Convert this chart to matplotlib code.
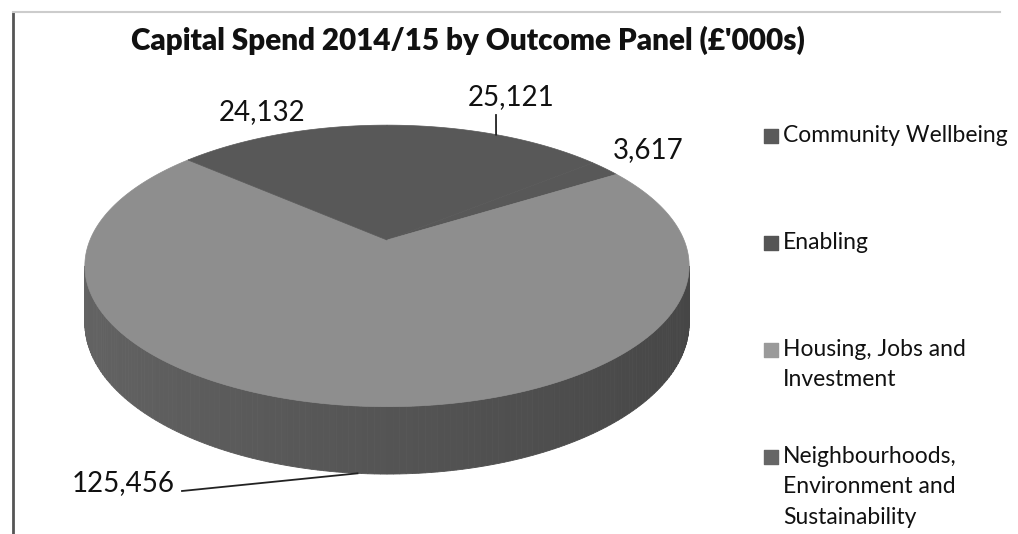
import numpy as np
import matplotlib
matplotlib.use('Agg')
import matplotlib.pyplot as plt

# data, in the order Excel draws the slices
categories = ['Community Wellbeing', 'Enabling', 'Housing, Jobs and\nInvestment',
              'Neighbourhoods,\nEnvironment and\nSustainability']
values = [25121, 3617, 125456, 24132]
value_labels = ['25,121', '3,617', '125,456', '24,132']
top_colors = ['#585858', '#585858', '#8e8e8e', '#585858']
legend_colors = ['#5a5a5a', '#555555', '#9a9a9a', '#666666']

W, H = 1018, 534
plt.rcParams['font.family'] = ['Lato', 'DejaVu Sans']

# 3d pie geometry in pixels
CX, CY = 387, 240
A, B = 297, 136
P = 0.184
DEPTH = 55


def project(t, r=1.0, drop=0.0):
    x = r * np.cos(t)
    z = r * np.sin(t)
    f = 1.0 / (1.0 + P * z)
    return CX + A * x * f, CY - B * z * f + drop * f


fig = plt.figure(figsize=(W / 100, H / 100), dpi=100)
ax = fig.add_axes([0, 0, 1, 1])
ax.set_xlim(0, W)
ax.set_ylim(H, 0)
ax.axis('off')

total = float(sum(values))
start = np.deg2rad(90)
edges = start - np.concatenate([[0], np.cumsum(values)]) / total * 2 * np.pi

# side wall, visible part only
vis_lo = np.pi + np.arcsin(P)
vis_hi = 2 * np.pi - np.arcsin(P)
for i in range(len(values)):
    a0, a1 = edges[i + 1], edges[i]  # a0 < a1
    base = int(top_colors[i][1:3], 16) / 255.0
    for k in range(-1, 2):
        lo = max(a0 + k * 2 * np.pi, vis_lo)
        hi = min(a1 + k * 2 * np.pi, vis_hi)
        if hi <= lo:
            continue
        n = max(2, int(np.degrees(hi - lo)))
        ts = np.linspace(lo, hi, n + 1)
        for j in range(n):
            t = np.linspace(ts[j], ts[j + 1], 4)
            xt, yt = project(t)
            xb, yb = project(t[::-1], drop=DEPTH)
            shade = base * (0.70 - 0.21 * (np.cos(t.mean()) + 1) / 2)
            c = (shade, shade, shade)
            ax.fill(np.concatenate([xt, xb]), np.concatenate([yt, yb]),
                    facecolor=c, edgecolor=c, linewidth=0.6)

# top face
for i in range(len(values)):
    t = np.linspace(edges[i], edges[i + 1], 200)
    xs, ys = project(t)
    cx0, cy0 = project(0.0, r=0.0)
    ax.fill(np.concatenate([[cx0], xs]), np.concatenate([[cy0], ys]),
            facecolor=top_colors[i], edgecolor=top_colors[i], linewidth=0.5)

# data labels
mids = (edges[:-1] + edges[1:]) / 2
label_pos = [(511, 97), (648, 150), (123, 483), (262, 112)]
leader_from = [(496, 115), None, (182, 491), None]
leader_drop = [0.0, 0.0, DEPTH, 0.0]
for i, lab in enumerate(value_labels):
    ax.text(label_pos[i][0], label_pos[i][1], lab, fontsize=20,
            ha='center', va='center', color='#111111')
    if leader_from[i] is not None:
        ex, ey = project(mids[i], drop=leader_drop[i])
        ax.plot([leader_from[i][0], ex], [leader_from[i][1], ey],
                color='#222222', linewidth=1.3)

# legend
leg_y = [136, 243, 350, 457]
for i, name in enumerate(categories):
    ax.scatter([771], [leg_y[i]], marker='s', s=95, color=legend_colors[i])
    ax.text(783, leg_y[i] - 11, name, fontsize=16.5, ha='left', va='top',
            color='#111111', linespacing=1.55)

# title and frame lines
ax.text(468, 40, "Capital Spend 2014/15 by Outcome Panel (£'000s)",
        fontsize=21.3, fontweight='heavy', ha='center', va='center', color='#111111')
ax.plot([13, 13], [12, H], color='#555555', linewidth=2)
ax.plot([13, 1000], [12, 12], color='#cccccc', linewidth=1.5)

fig.savefig('out.png', dpi=100)
